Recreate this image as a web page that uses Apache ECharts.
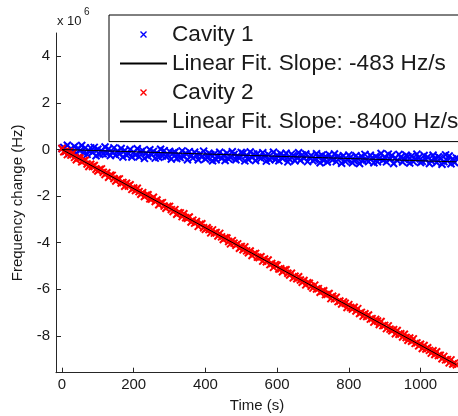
<!DOCTYPE html>
<html>
<head>
<meta charset="utf-8">
<script src="https://cdn.jsdelivr.net/npm/echarts@6/dist/echarts.min.js"></script>
<style>
html,body{margin:0;padding:0;background:#fff;}
#chart{width:458px;height:416px;}
</style>
</head>
<body>
<div id="chart"></div>
<script>
// Sample times (s)
var times = [
0,5,10,15,20,25,30,35,40,45,50,55,60,65,70,75,80,85,90,95,
100,105,110,115,120,125,130,135,140,145,150,155,160,165,170,175,180,185,190,195,
200,205,210,215,220,225,230,235,240,245,250,255,260,265,270,275,280,285,290,295,
300,305,310,315,320,325,330,335,340,345,350,355,360,365,370,375,380,385,390,395,
400,405,410,415,420,425,430,435,440,445,450,455,460,465,470,475,480,485,490,495,
500,505,510,515,520,525,530,535,540,545,550,555,560,565,570,575,580,585,590,595,
600,605,610,615,620,625,630,635,640,645,650,655,660,665,670,675,680,685,690,695,
700,705,710,715,720,725,730,735,740,745,750,755,760,765,770,775,780,785,790,795,
800,805,810,815,820,825,830,835,840,845,850,855,860,865,870,875,880,885,890,895,
900,905,910,915,920,925,930,935,940,945,950,955,960,965,970,975,980,985,990,995,
1000,1005,1010,1015,1020,1025,1030,1035,1040,1045,1050,1055,1060,1065,1070,1075,1080,1085,1090,1095,
1100];

// Cavity 1 frequency change (x 10^6 Hz)
var cavity1 = [
0.04,0.09,-0.08,0.18,-0.16,0.03,-0.09,0.13,-0.16,0.06,
-0.06,0.17,-0.15,0.07,-0.21,-0.06,0.07,-0.12,0.09,-0.27,
0.01,-0.21,-0.05,-0.18,0.11,-0.17,0.02,-0.26,-0.12,0.07,
-0.24,-0.06,-0.19,0.04,-0.32,-0.04,-0.24,-0.18,0.00,-0.32,
-0.12,-0.24,0.03,-0.31,-0.10,-0.05,-0.38,-0.16,-0.29,-0.01,
-0.23,-0.08,-0.37,-0.15,-0.33,0.01,-0.28,-0.05,-0.30,-0.24,
-0.08,-0.41,-0.15,-0.11,-0.39,-0.21,-0.35,-0.06,-0.30,-0.16,
-0.44,-0.09,-0.27,-0.37,-0.12,-0.24,-0.44,-0.19,-0.32,-0.07,
-0.41,-0.35,-0.16,-0.22,-0.48,-0.19,-0.44,-0.31,-0.12,-0.38,
-0.25,-0.47,-0.16,-0.41,-0.33,-0.10,-0.21,-0.44,-0.27,-0.38,
-0.13,-0.17,-0.49,-0.24,-0.43,-0.11,-0.35,-0.20,-0.47,-0.18,
-0.33,-0.38,-0.14,-0.29,-0.50,-0.21,-0.44,-0.36,-0.12,-0.43,
-0.24,-0.48,-0.18,-0.39,-0.29,-0.16,-0.53,-0.42,-0.20,-0.27,
-0.48,-0.35,-0.14,-0.46,-0.23,-0.38,-0.19,-0.52,-0.34,-0.26,
-0.49,-0.43,-0.18,-0.32,-0.57,-0.25,-0.47,-0.30,-0.54,-0.22,
-0.39,-0.44,-0.19,-0.52,-0.29,-0.35,-0.59,-0.27,-0.51,-0.44,
-0.24,-0.33,-0.57,-0.48,-0.27,-0.39,-0.60,-0.29,-0.49,-0.21,
-0.45,-0.52,-0.25,-0.36,-0.57,-0.30,-0.53,-0.40,-0.17,-0.46,
-0.32,-0.53,-0.20,-0.42,-0.26,-0.60,-0.36,-0.47,-0.21,-0.33,
-0.54,-0.43,-0.25,-0.31,-0.58,-0.29,-0.52,-0.41,-0.20,-0.35,
-0.56,-0.51,-0.26,-0.44,-0.32,-0.60,-0.48,-0.24,-0.40,-0.56,
-0.31,-0.36,-0.63,-0.52,-0.23,-0.48,-0.28,-0.61,-0.41,-0.56,
-0.36];

// Cavity 2 frequency change (x 10^6 Hz)
var cavity2 = [
0.04,-0.10,-0.07,-0.22,-0.09,-0.24,-0.15,-0.34,-0.44,-0.35,
-0.37,-0.53,-0.49,-0.46,-0.62,-0.73,-0.63,-0.73,-0.69,-0.85,
-0.92,-0.86,-0.83,-0.98,-1.07,-1.00,-1.19,-1.10,-1.11,-1.25,
-1.35,-1.28,-1.26,-1.44,-1.42,-1.58,-1.45,-1.57,-1.51,-1.71,
-1.65,-1.76,-1.66,-1.81,-1.92,-1.85,-2.02,-1.96,-1.94,-2.12,
-2.13,-2.05,-2.23,-2.17,-2.37,-2.30,-2.28,-2.43,-2.52,-2.44,
-2.44,-2.58,-2.66,-2.58,-2.78,-2.71,-2.72,-2.88,-2.76,-2.93,
-2.95,-2.90,-3.11,-3.03,-3.16,-3.09,-3.30,-3.21,-3.19,-3.36,
-3.43,-3.36,-3.44,-3.58,-3.45,-3.59,-3.56,-3.71,-3.60,-3.75,
-3.86,-3.79,-3.80,-3.95,-4.05,-3.91,-4.02,-4.11,-4.05,-4.24,
-4.16,-4.30,-4.18,-4.35,-4.43,-4.36,-4.55,-4.48,-4.46,-4.62,
-4.64,-4.60,-4.79,-4.70,-4.82,-4.74,-4.94,-4.89,-5.06,-4.94,
-4.97,-5.13,-5.12,-5.25,-5.17,-5.16,-5.31,-5.39,-5.31,-5.51,
-5.44,-5.55,-5.46,-5.60,-5.70,-5.62,-5.81,-5.72,-5.74,-5.87,
-5.95,-5.82,-5.99,-5.97,-6.13,-6.08,-6.06,-6.23,-6.22,-6.18,
-6.40,-6.30,-6.41,-6.34,-6.53,-6.50,-6.63,-6.54,-6.60,-6.78,
-6.66,-6.78,-6.85,-6.77,-6.93,-6.83,-7.04,-6.99,-7.15,-7.05,
-7.17,-7.10,-7.28,-7.26,-7.41,-7.29,-7.36,-7.51,-7.38,-7.56,
-7.55,-7.69,-7.57,-7.71,-7.78,-7.73,-7.91,-7.77,-7.93,-7.91,
-8.05,-7.93,-8.07,-8.19,-8.09,-8.23,-8.13,-8.32,-8.30,-8.43,
-8.36,-8.54,-8.41,-8.56,-8.51,-8.62,-8.74,-8.64,-8.80,-8.68,
-8.84,-8.83,-8.98,-8.88,-9.03,-9.02,-9.16,-9.03,-9.21,-9.17,
-9.24];

// Linear fits
var fitTimes = [0, 1100];
var fit1 = [0, -0.531];   // -483 Hz/s
var fit2 = [0, -9.24];    // -8400 Hz/s

var seriesNames = ['Cavity 1', 'Linear Fit. Slope: -483 Hz/s', 'Cavity 2', 'Linear Fit. Slope: -8400 Hz/s'];
var xTicks = [0, 200, 400, 600, 800, 1000];
var yTicks = [-8, -6, -4, -2, 0, 2, 4];

function pairs(xs, ys) { return ys.map(function (v, i) { return [xs[i], v]; }); }

var FONT = '"Liberation Sans", Arial, sans-serif';
var TXT = '#1a1a1a';
var AX = '#262626';
var XSYM = 'path://M0,0L10,10M10,0L0,10';
var HIDE = {color: 'rgba(0,0,0,0)', borderColor: 'rgba(0,0,0,0)', borderWidth: 0};

var chart = echarts.init(document.getElementById('chart'), null, {renderer: 'canvas'});
chart.setOption({
  animation: false,
  backgroundColor: '#fff',
  grid: {left: 56, top: 33, right: 0, bottom: 43.3, containLabel: false, outerBoundsMode: 'none'},
  xAxis: {
    type: 'value', min: -16.7, max: 1104.6,
    name: 'Time (s)', nameLocation: 'middle', nameGap: 26,
    nameTextStyle: {fontFamily: FONT, fontSize: 15, color: TXT},
    axisLine: {show: true, onZero: false, lineStyle: {color: AX, width: 1}},
    axisTick: {show: true, inside: true, length: 5, customValues: xTicks, lineStyle: {color: AX}},
    axisLabel: {customValues: xTicks, fontFamily: FONT, fontSize: 15, color: TXT, margin: 5,
      formatter: function (v) { return String(v); }},
    splitLine: {show: false}
  },
  yAxis: {
    type: 'value', min: -9.58, max: 5,
    name: 'Frequency change (Hz)', nameLocation: 'middle', nameGap: 23, nameRotate: 90,
    nameTextStyle: {fontFamily: FONT, fontSize: 15, color: TXT},
    axisLine: {show: true, onZero: false, lineStyle: {color: AX, width: 1}},
    axisTick: {show: true, inside: true, length: 5, customValues: yTicks, lineStyle: {color: AX}},
    axisLabel: {customValues: yTicks, fontFamily: FONT, fontSize: 15, color: TXT, margin: 6,
      formatter: function (v) { return String(v); }},
    splitLine: {show: false}
  },
  legend: {
    orient: 'vertical', left: 109, top: 15,
    padding: [8, 10, 8.6, 10], itemGap: 6, itemWidth: 47, itemHeight: 6,
    symbolKeepAspect: true,
    borderColor: '#000', borderWidth: 1, backgroundColor: '#fff',
    textStyle: {fontFamily: FONT, fontSize: 22.6, color: TXT},
    data: [
      {name: seriesNames[0], icon: XSYM, itemStyle: {color: '#0000ff', borderColor: '#0000ff', borderWidth: 1.4}},
      {name: seriesNames[1], itemStyle: HIDE},
      {name: seriesNames[2], icon: XSYM, itemStyle: {color: '#ff0000', borderColor: '#ff0000', borderWidth: 1.4}},
      {name: seriesNames[3], itemStyle: HIDE}
    ]
  },
  graphic: [
    {type: 'text', left: 57, top: 15, style: {text: 'x 10', font: '13px ' + FONT, fill: TXT}},
    {type: 'text', left: 84, top: 7, style: {text: '6', font: '10px ' + FONT, fill: TXT}}
  ],
  series: [
    {name: seriesNames[0], type: 'scatter', data: pairs(times, cavity1), symbol: XSYM, symbolSize: 7,
     itemStyle: {color: '#0000ff', borderColor: '#0000ff', borderWidth: 2, opacity: 1}},
    {name: seriesNames[1], type: 'line', data: pairs(fitTimes, fit1), symbol: 'none', showSymbol: false,
     lineStyle: {color: '#000', width: 1}, itemStyle: {color: '#000'}},
    {name: seriesNames[2], type: 'scatter', data: pairs(times, cavity2), symbol: XSYM, symbolSize: 7,
     itemStyle: {color: '#ff0000', borderColor: '#ff0000', borderWidth: 2, opacity: 1}},
    {name: seriesNames[3], type: 'line', data: pairs(fitTimes, fit2), symbol: 'none', showSymbol: false,
     lineStyle: {color: '#000', width: 1}, itemStyle: {color: '#000'}}
  ]
});
</script>
</body>
</html>
